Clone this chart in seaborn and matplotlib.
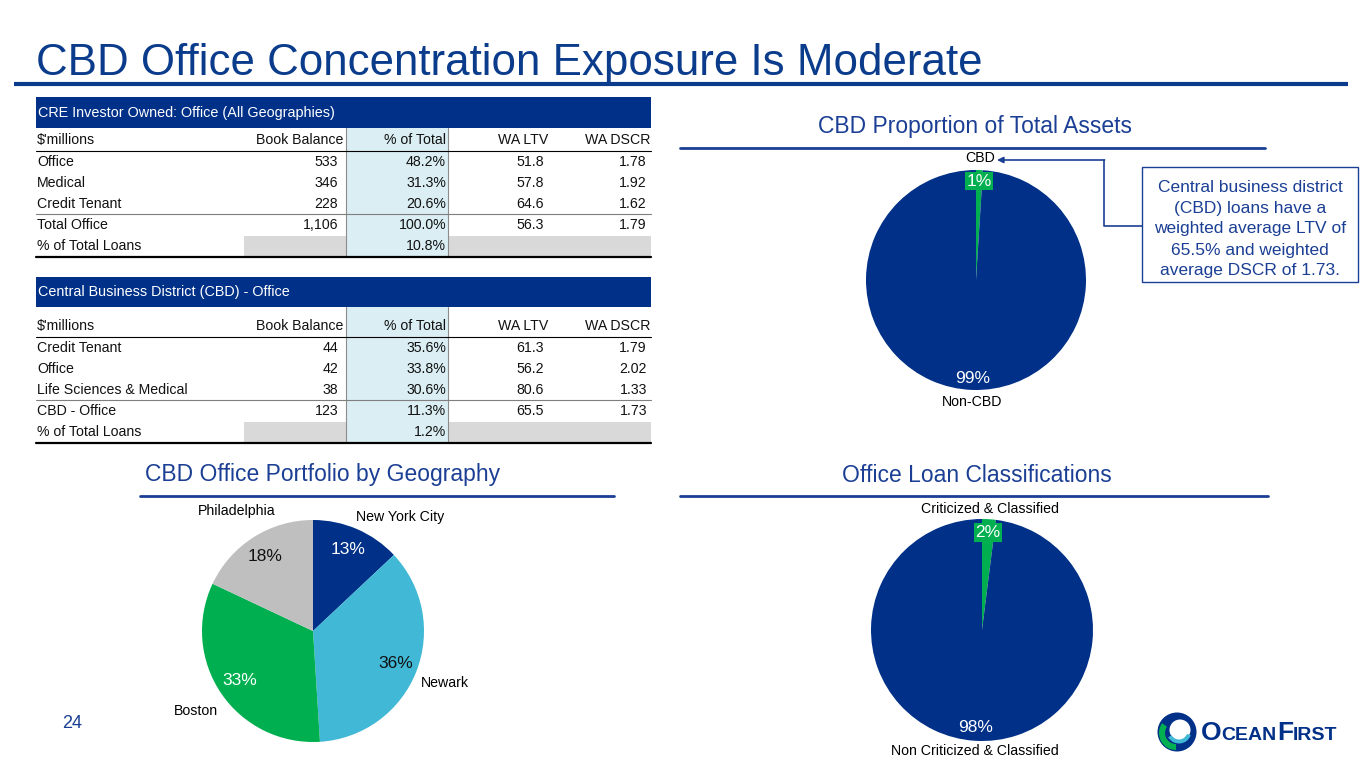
import matplotlib
matplotlib.use("Agg")
import numpy as np
import matplotlib.pyplot as plt
import seaborn as sns
from matplotlib.patches import Rectangle, Circle, Wedge
from matplotlib.offsetbox import TextArea, HPacker, AnnotationBbox

W, H = 1365, 768

# ---- data ----
title = "CBD Office Concentration Exposure Is Moderate"
col_names = ["$'millions", "Book Balance", "% of Total", "WA LTV", "WA DSCR"]

t1_title = "CRE Investor Owned: Office (All Geographies)"
t1_rows = ["Office", "Medical", "Credit Tenant"]
t1_book = [533, 346, 228]
t1_pct = [48.2, 31.3, 20.6]
t1_ltv = [51.8, 57.8, 64.6]
t1_dscr = [1.78, 1.92, 1.62]
t1_total = ["Total Office", 1106, 100.0, 56.3, 1.79]
t1_loans = 10.8

t2_title = "Central Business District (CBD) - Office"
t2_rows = ["Credit Tenant", "Office", "Life Sciences & Medical"]
t2_book = [44, 42, 38]
t2_pct = [35.6, 33.8, 30.6]
t2_ltv = [61.3, 56.2, 80.6]
t2_dscr = [1.79, 2.02, 1.33]
t2_total = ["CBD - Office", 123, 11.3, 65.5, 1.73]
t2_loans = 1.2

cbd_labels = ["CBD", "Non-CBD"]
cbd_share = [1, 99]

geo_labels = ["New York City", "Newark", "Boston", "Philadelphia"]
geo_share = [13, 36, 33, 18]

cls_labels = ["Criticized & Classified", "Non Criticized & Classified"]
cls_share = [2, 98]

callout_lines = ["Central business district", "(CBD) loans have a",
                 "weighted average LTV of", "65.5% and weighted",
                 "average DSCR of 1.73."]

# ---- style ----
BLUE = "#003087"
TBLUE = "#0B3C8C"
SUB = "#1B3F94"
GREEN = "#00B050"
LBLUE = "#41B8D5"
GREY = "#BFBFBF"

sns.set_theme(style="white")
REG = "Liberation Sans"
plt.rcParams["font.family"] = [REG, "DejaVu Sans"]

fig = plt.figure(figsize=(W / 100, H / 100), dpi=100)
fig.patch.set_facecolor("white")
bg = fig.add_axes([0, 0, 1, 1])
bg.set_xlim(0, W)
bg.set_ylim(H, 0)
bg.axis("off")
renderer = fig.canvas.get_renderer()


def size_for(s, target, **kw):
    t = bg.text(0, 0, s, fontsize=10, **kw)
    w = t.get_window_extent(renderer).width
    t.remove()
    return 10 * target / w


S_TITLE = size_for(title, 949)
S_SUB = 16.5
S_BAR = 10.4
S_TBL = 10.2
S_CALL = 12.5
S_LAB = 10.2
S_PCT = 12.5

# title
bg.text(36, 75, title, fontsize=S_TITLE, color=TBLUE, va="baseline")
bg.plot([14, 1348], [84, 84], color=TBLUE, lw=3, solid_capstyle="butt")


def draw_table(bar_top, bar_h, hdr_gap, ttl, rows, book, pct, ltv, dscr, total, loans):
    x0, x1 = 36, 651
    cb0, cb1 = 346, 448
    bg.add_patch(Rectangle((x0, bar_top), x1 - x0, bar_h, color=BLUE, lw=0))
    bg.text(x0 + 2, bar_top + bar_h / 2, ttl, color="white", fontsize=S_BAR, va="center")
    yh = bar_top + bar_h + hdr_gap
    y_line = yh + 11
    y_rows = [y_line + 11 + 21 * i for i in range(len(rows))]
    y_line2 = y_rows[-1] + 10
    y_tot = y_line2 + 11
    y_loan = y_tot + 21
    y_bot = y_loan + 11
    bg.add_patch(Rectangle((cb0, bar_top + bar_h), cb1 - cb0, y_bot - bar_top - bar_h,
                           color="#DAEEF3", lw=0))
    bg.add_patch(Rectangle((244, y_loan - 10), cb0 - 244, 20, color="#D9D9D9", lw=0))
    bg.add_patch(Rectangle((cb1 + 1, y_loan - 10), x1 - cb1 - 1, 20, color="#D9D9D9", lw=0))
    for xv in (cb0, cb1):
        bg.plot([xv, xv], [bar_top + bar_h, y_bot], color="#8C8C8C", lw=0.8)
    bg.plot([x0, x1], [y_line, y_line], color="black", lw=0.8)
    bg.plot([x0, x1], [y_line2, y_line2], color="#7F7F7F", lw=0.8)
    bg.plot([x0, x1], [y_bot, y_bot], color="black", lw=1.6)

    xs = [37, 343, 446, 548, 650]
    kw = dict(fontsize=S_TBL, va="center", color="#111111")
    bg.text(xs[0], yh, col_names[0], ha="left", **kw)
    for xv, c in zip(xs[1:], col_names[1:]):
        bg.text(xv, yh, c, ha="right", **kw)
    table_rows = list(zip(rows, book, pct, ltv, dscr)) + [tuple(total)]
    for y, (lab, b, p, l, d) in zip(y_rows + [y_tot], table_rows):
        bg.text(xs[0], y, lab, ha="left", **kw)
        bg.text(xs[1] - 5, y, f"{b:,}", ha="right", **kw)
        bg.text(xs[2], y, f"{p:.1f}%", ha="right", **kw)
        bg.text(xs[3] - 4, y, f"{l:.1f}", ha="right", **kw)
        bg.text(xs[4] - 3, y, f"{d:.2f}", ha="right", **kw)
    bg.text(xs[0], y_loan, "% of Total Loans", ha="left", **kw)
    bg.text(xs[2], y_loan, f"{loans:.1f}%", ha="right", **kw)


draw_table(97, 31, 12, t1_title, t1_rows, t1_book, t1_pct, t1_ltv, t1_dscr, t1_total, t1_loans)
draw_table(277, 30, 19, t2_title, t2_rows, t2_book, t2_pct, t2_ltv, t2_dscr, t2_total, t2_loans)

# section headings
bg.text(975, 127, "CBD Proportion of Total Assets", fontsize=S_SUB, color=SUB,
        ha="center", va="center")
bg.plot([680, 1265], [148, 148], color=SUB, lw=2)
bg.text(323, 475, "CBD Office Portfolio by Geography", fontsize=S_SUB, color=SUB,
        ha="center", va="center")
bg.plot([140, 614], [496, 496], color=SUB, lw=2)
bg.text(977, 476, "Office Loan Classifications", fontsize=S_SUB, color=SUB,
        ha="center", va="center")
bg.plot([680, 1268], [496, 496], color=SUB, lw=2)


def pie_axes(cx, cy, r):
    return fig.add_axes([(cx - r) / W, 1 - (cy + r) / H, 2 * r / W, 2 * r / H])


def style_pie(ax, lbls, pcts, pct_colors, box_first):
    ax.set_xlim(-1, 1)
    ax.set_ylim(-1, 1)
    for t in lbls:
        t.set_ha("center")
        t.set_fontsize(S_LAB)
        t.set_color("black")
    for t, c in zip(pcts, pct_colors):
        t.set_color(c)
        t.set_fontsize(S_PCT)
        t.set_ha("center")
    if box_first:
        pcts[0].set_bbox(dict(facecolor=GREEN, edgecolor="none", pad=1.2))


# CBD share pie
ax1 = pie_axes(976, 280, 110)
w1, l1, p1 = ax1.pie(cbd_share, labels=cbd_labels, colors=[GREEN, BLUE], startangle=90,
                     counterclock=False, autopct="%1.0f%%", pctdistance=0.9,
                     labeldistance=1.11, wedgeprops=dict(linewidth=0))
style_pie(ax1, l1, p1, ["white", "white"], True)

# callout box + connector
bg.add_patch(Rectangle((1142, 167), 216, 115, facecolor="white", edgecolor=SUB, lw=1))
for i, line in enumerate(callout_lines):
    bg.text(1250, 187 + 21 * i, line, fontsize=S_CALL, color=SUB, ha="center",
            va="center")
bg.plot([1142, 1104, 1104], [226, 226, 160], color=SUB, lw=1.2)
bg.annotate("", xy=(997, 160), xytext=(1104.6, 160),
            arrowprops=dict(arrowstyle="-|>", color=SUB, lw=1.2, mutation_scale=9,
                            shrinkA=0, shrinkB=0))

# geography pie
ax2 = pie_axes(313, 631, 111)
w2, l2, p2 = ax2.pie(geo_share, labels=geo_labels, colors=[BLUE, LBLUE, GREEN, GREY],
                     startangle=90, counterclock=False, autopct="%1.0f%%",
                     pctdistance=0.8, labeldistance=1.28, wedgeprops=dict(linewidth=0))
style_pie(ax2, l2, p2, ["white", "#111111", "white", "#111111"], False)
# New York City label sits toward the right end of its slice
ang = np.deg2rad(w2[0].theta1 + 0.2 * (w2[0].theta2 - w2[0].theta1))
l2[0].set_position((1.29 * np.cos(ang), 1.29 * np.sin(ang)))

# classification pie
ax3 = pie_axes(982, 630, 111)
w3, l3, p3 = ax3.pie(cls_share, labels=cls_labels, colors=[GREEN, BLUE], startangle=90,
                     counterclock=False, autopct="%1.0f%%", pctdistance=0.88,
                     labeldistance=1.09, wedgeprops=dict(linewidth=0))
style_pie(ax3, l3, p3, ["white", "white"], True)

# page number
bg.text(72, 724, "24", fontsize=13, color=SUB, ha="center", va="center")

# logo
bg.add_patch(Circle((1177, 732), 19.5, color=BLUE, lw=0))
bg.add_patch(Wedge((1176, 733), 17, 90, 215, width=6, color=GREEN, lw=0))
bg.add_patch(Circle((1180, 730), 10.5, color="white", lw=0))
bg.add_patch(Wedge((1179, 731), 12.5, 20, 150, width=4, color=LBLUE, lw=0))
parts = [("O", 19), ("CEAN", 14), ("F", 19), ("IRST", 14)]
boxes = [TextArea(s, textprops=dict(fontsize=fs, color=BLUE, weight="bold", family=REG))
         for s, fs in parts]
logo = HPacker(children=boxes, align="baseline", pad=0, sep=0)
bg.add_artist(AnnotationBbox(logo, (1201, 733), box_alignment=(0, 0.5), frameon=False,
                             xycoords="data"))

fig.savefig("out.png", dpi=100, facecolor="white")
